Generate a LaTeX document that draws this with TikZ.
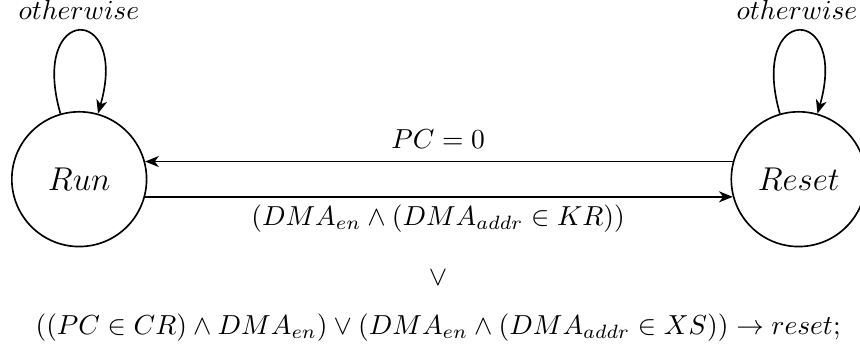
\documentclass[tikz,border=0pt]{standalone}
\usetikzlibrary{arrows.meta}
\begin{document}
\begin{tikzpicture}[x=1pt,y=1pt,
  state/.style={circle,draw,semithick,minimum size=49pt,inner sep=0pt,font=\large},
  edge/.style={semithick,-{Stealth[length=5pt,width=4pt,inset=1.5pt]}},
  lbl/.style={anchor=base,inner sep=0pt}]
\useasboundingbox (0,0) rectangle (312.7,129.45);
\node[state] (run) at (28.8,64.3) {$Run$};
\node[state] (reset) at (290.4,64.3) {$Reset$};
\draw[edge] (reset.165) -- (run.15);
\draw[edge] (run.-15) -- (reset.195);
\draw[edge] (run.106) to[out=106,in=74,distance=41.7pt] (run.74);
\draw[edge] (reset.106) to[out=106,in=74,distance=41.7pt] (reset.74);
\node[lbl] (pc) at (159.3,75.6) {$PC = 0$};
\node[lbl] (kr) at (159.3,47.6) {$(DMA_{en} \wedge (DMA_{addr} \in KR))$};
\node[lbl] (orsym) at (159.3,25.8) {$\vee$};
\node[lbl] (long) at (159.3,8.0) {$((PC \in CR) \wedge DMA_{en}) \vee (DMA_{en} \wedge (DMA_{addr} \in XS)) \rightarrow reset;$};
\node[lbl] (ow1) at (28.7,122.5) {$otherwise$};
\node[lbl] (ow2) at (289.8,122.5) {$otherwise$};
\end{tikzpicture}
\end{document}
